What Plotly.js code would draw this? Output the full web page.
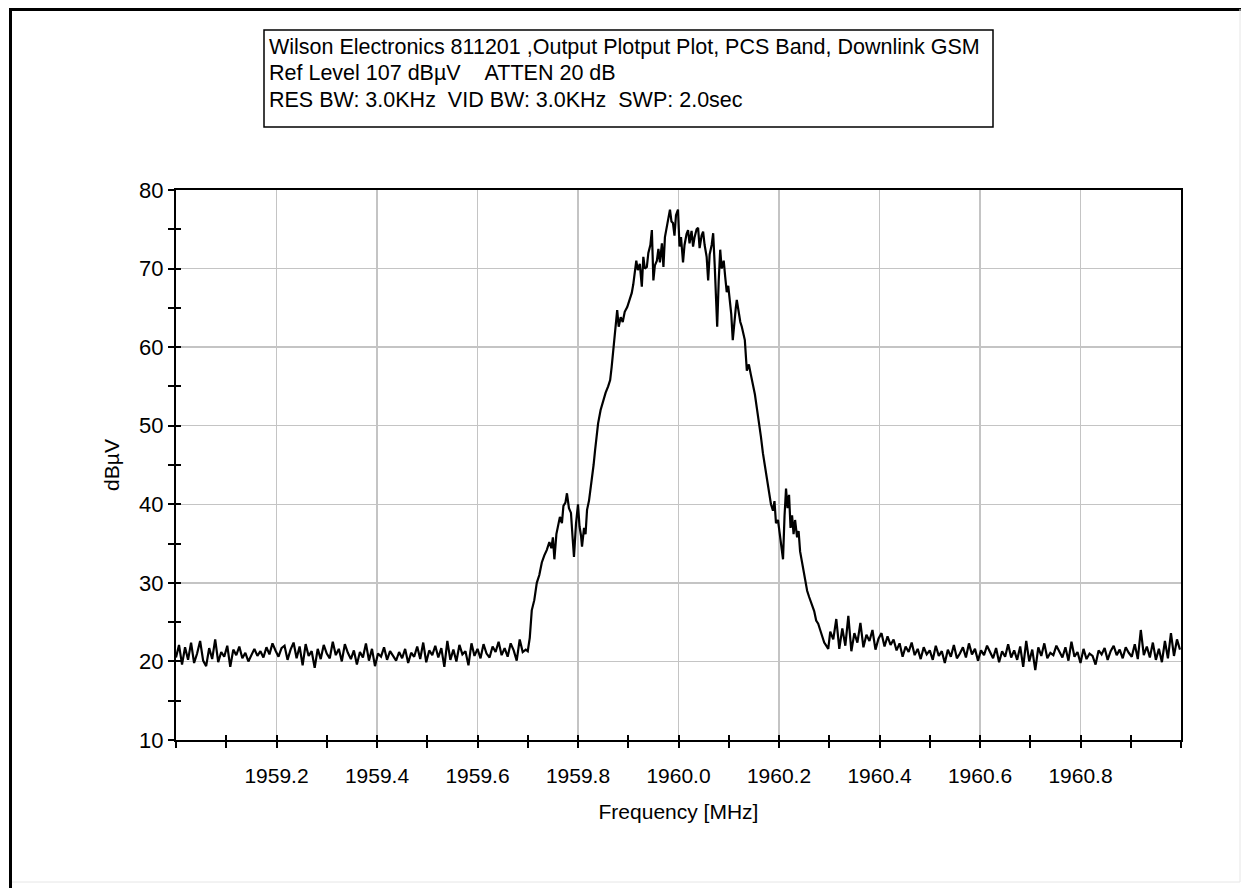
<!DOCTYPE html>
<html>
<head>
<meta charset="utf-8">
<script src="https://cdn.plot.ly/plotly-3.0.1.min.js"></script>
<style>
html,body{margin:0;padding:0;background:#fff;}
#chart{width:1246px;height:888px;}
</style>
</head>
<body>
<div id="chart"></div>
<script>
// ---- Data ----
const titleLines = [
  "Wilson Electronics 811201 ,Output Plotput Plot, PCS Band, Downlink GSM",
  "Ref Level 107 dBµV &nbsp;&nbsp;&nbsp;ATTEN 20 dB",
  "RES BW: 3.0KHz &nbsp;VID BW: 3.0KHz &nbsp;SWP: 2.0sec"
];
const xTitle = "Frequency [MHz]";
const yTitle = "dBµV";
const xTickVals = [1959.0, 1959.2, 1959.4, 1959.6, 1959.8, 1960.0, 1960.2, 1960.4, 1960.6, 1960.8, 1961.0];
const xTickText = ["", "1959.2", "1959.4", "1959.6", "1959.8", "1960.0", "1960.2", "1960.4", "1960.6", "1960.8", ""];
const yTickVals = [10, 20, 30, 40, 50, 60, 70, 80];

// Noise floor below the carrier (MHz)
const freqLow = [
1959.000,1959.006,1959.012,1959.018,1959.024,1959.030,1959.036,1959.042,1959.048,1959.054,
1959.060,1959.066,1959.072,1959.078,1959.084,1959.090,1959.096,1959.102,1959.108,1959.114,
1959.120,1959.126,1959.132,1959.138,1959.144,1959.150,1959.156,1959.162,1959.168,1959.174,
1959.180,1959.186,1959.192,1959.198,1959.204,1959.210,1959.216,1959.222,1959.228,1959.234,
1959.240,1959.246,1959.252,1959.258,1959.264,1959.270,1959.276,1959.282,1959.288,1959.294,
1959.300,1959.306,1959.312,1959.318,1959.324,1959.330,1959.336,1959.342,1959.348,1959.354,
1959.360,1959.366,1959.372,1959.378,1959.384,1959.390,1959.396,1959.402,1959.408,1959.414,
1959.420,1959.426,1959.432,1959.438,1959.444,1959.450,1959.456,1959.462,1959.468,1959.474,
1959.480,1959.486,1959.492,1959.498,1959.504,1959.510,1959.516,1959.522,1959.528,1959.534,
1959.540,1959.546,1959.552,1959.558,1959.564,1959.570,1959.576,1959.582,1959.588,1959.594,
1959.600,1959.606,1959.612,1959.618,1959.624,1959.630,1959.636,1959.642,1959.648,1959.654,
1959.660,1959.666,1959.672,1959.678,1959.684,1959.690,1959.696
];
const levelLow = [
20.5,22.1,19.6,21.8,20.2,22.4,19.8,21.0,22.6,20.1,
19.4,21.7,20.3,22.8,19.9,21.2,20.6,22.0,19.3,21.5,
20.8,21.9,20.4,21.1,20.0,20.9,21.6,20.7,21.3,20.5,
21.8,20.9,22.3,21.4,20.6,21.7,22.0,20.2,21.5,22.4,
20.4,21.9,19.5,22.2,20.7,21.3,19.2,21.6,20.3,22.1,
21.0,20.4,22.5,20.8,21.6,20.0,22.2,21.1,20.3,21.4,
19.6,21.2,20.5,22.3,20.1,21.6,19.4,21.0,20.6,21.8,
20.2,21.3,20.7,20.1,21.2,20.4,21.6,19.8,21.1,20.6,
21.9,20.3,22.4,19.9,21.4,20.8,22.0,20.5,21.7,19.3,
22.6,20.2,21.5,20.0,22.1,20.9,21.3,19.5,22.3,20.7,
21.6,20.4,22.2,21.0,20.5,21.9,21.2,22.5,20.8,21.7,
20.6,22.3,21.4,20.1,22.8,21.2,21.5
];

// Carrier region (MHz)
const freqCarrier = [
1959.700,1959.704,1959.708,1959.713,1959.718,1959.723,1959.728,1959.733,1959.738,1959.743,
1959.747,1959.750,1959.753,1959.757,1959.761,1959.764,1959.768,1959.771,1959.775,1959.778,
1959.782,1959.786,1959.789,1959.792,1959.796,1959.800,1959.803,1959.806,1959.808,1959.812,
1959.815,1959.818,1959.822,1959.825,1959.828,1959.831,1959.834,1959.837,1959.840,1959.845,
1959.850,1959.855,1959.860,1959.864,1959.867,1959.870,1959.874,1959.878,1959.881,1959.885,
1959.889,1959.893,1959.898,1959.902,1959.907,1959.910,1959.913,1959.916,1959.919,1959.923,
1959.927,1959.930,1959.933,1959.937,1959.940,1959.944,1959.947,1959.950,1959.953,1959.957,
1959.960,1959.963,1959.967,1959.970,1959.973,1959.977,1959.980,1959.983,1959.986,1959.989,
1959.992,1959.995,1959.999,1960.002,1960.005,1960.009,1960.012,1960.016,1960.019,1960.022,
1960.026,1960.029,1960.032,1960.036,1960.039,1960.042,1960.046,1960.049,1960.052,1960.056,
1960.059,1960.062,1960.066,1960.069,1960.072,1960.075,1960.077,1960.080,1960.083,1960.086,
1960.090,1960.093,1960.096,1960.099,1960.102,1960.105,1960.108,1960.111,1960.114,1960.116,
1960.120,1960.123,1960.126,1960.129,1960.132,1960.136,1960.140,1960.144,1960.148,1960.152,
1960.156,1960.160,1960.164,1960.168,1960.172,1960.176,1960.180,1960.184,1960.188,1960.191,
1960.194,1960.198,1960.201,1960.204,1960.208,1960.211,1960.214,1960.217,1960.220,1960.223,
1960.226,1960.229,1960.232,1960.236,1960.239,1960.242,1960.246,1960.249,1960.252,1960.256,
1960.260,1960.263,1960.266,1960.270,1960.274,1960.278,1960.282,1960.286,1960.290,1960.294,
1960.298,1960.302
];
const levelCarrier = [
21.3,23.0,26.5,27.8,30.0,31.0,32.6,33.5,34.2,35.2,
34.4,35.8,33.0,36.2,37.5,38.4,37.6,39.8,40.2,41.4,
39.5,38.9,36.0,33.3,37.5,40.0,37.2,36.0,34.6,37.0,
36.2,39.3,40.5,42.0,43.0,45.0,46.9,48.8,50.3,52.0,
53.3,54.2,55.0,55.8,57.5,59.3,61.5,64.7,62.6,63.8,
63.2,64.5,65.1,65.8,66.9,68.0,69.4,71.0,69.8,70.6,
67.7,71.5,70.0,70.2,72.0,73.0,74.9,68.5,70.4,71.0,
72.5,70.8,73.2,70.2,74.0,75.3,76.2,77.5,76.0,75.8,
74.2,76.8,77.5,72.8,74.0,70.8,73.0,74.4,74.9,73.2,
74.8,72.8,74.0,75.0,75.2,72.6,74.2,74.7,73.0,71.5,
68.5,71.8,73.0,74.5,70.5,66.0,62.6,68.4,72.4,70.0,
71.0,68.9,67.0,67.8,66.0,64.2,60.9,63.5,65.0,66.0,
64.0,63.2,62.6,61.8,60.9,57.0,57.8,56.5,55.2,54.0,
52.2,50.0,48.6,46.5,45.0,43.2,41.8,40.0,39.2,40.4,
37.6,38.0,36.5,35.2,33.0,38.5,42.0,39.5,41.2,37.0,
38.6,36.2,38.0,35.8,36.6,34.0,32.4,31.2,30.0,29.0,
28.2,27.6,27.0,26.4,25.2,24.8,24.0,23.2,22.4,22.0,
21.6,23.8
];

// Noise floor above the carrier (MHz)
const freqHigh = [
1960.308,1960.314,1960.320,1960.326,1960.332,1960.338,1960.344,1960.350,1960.356,1960.362,
1960.368,1960.374,1960.380,1960.386,1960.392,1960.398,1960.404,1960.410,1960.416,1960.422,
1960.428,1960.434,1960.440,1960.446,1960.452,1960.458,1960.464,1960.470,1960.476,1960.482,
1960.488,1960.494,1960.500,1960.506,1960.512,1960.518,1960.524,1960.530,1960.536,1960.542,
1960.548,1960.554,1960.560,1960.566,1960.572,1960.578,1960.584,1960.590,1960.596,1960.602,
1960.608,1960.614,1960.620,1960.626,1960.632,1960.638,1960.644,1960.650,1960.656,1960.662,
1960.668,1960.674,1960.680,1960.686,1960.692,1960.698,1960.704,1960.710,1960.716,1960.722,
1960.728,1960.734,1960.740,1960.746,1960.752,1960.758,1960.764,1960.770,1960.776,1960.782,
1960.788,1960.794,1960.800,1960.806,1960.812,1960.818,1960.824,1960.830,1960.836,1960.842,
1960.848,1960.854,1960.860,1960.866,1960.872,1960.878,1960.884,1960.890,1960.896,1960.902,
1960.908,1960.914,1960.920,1960.926,1960.932,1960.938,1960.944,1960.950,1960.956,1960.962,
1960.968,1960.974,1960.980,1960.986,1960.992,1960.998
];
const levelHigh = [
22.8,25.4,21.6,24.2,22.0,25.8,21.3,23.6,22.4,24.9,
21.8,23.4,22.6,24.0,21.5,22.9,23.6,21.9,23.2,22.1,
22.8,21.4,22.3,20.6,21.9,21.2,22.4,20.8,21.6,20.3,
21.8,20.9,21.4,20.2,22.0,20.7,21.3,19.8,21.5,20.6,
22.1,20.4,21.0,21.8,20.5,22.3,20.9,21.6,20.1,21.4,
20.8,22.0,21.2,20.4,21.7,19.9,21.3,20.6,22.2,20.5,
21.4,20.2,21.9,19.3,22.6,20.0,21.5,18.9,21.8,20.7,
22.3,20.4,21.1,20.8,22.0,21.3,20.5,21.8,20.1,22.5,
20.6,21.2,19.8,21.6,20.3,21.0,20.7,19.6,21.4,20.9,
21.7,20.2,21.3,22.0,20.8,21.5,20.4,21.8,21.1,20.6,
22.2,20.3,24.0,20.8,21.9,20.5,22.4,20.2,21.6,19.9,
22.6,20.4,23.6,20.7,22.8,21.5
];

// ---- Build figure ----
const freq = freqLow.concat(freqCarrier, freqHigh);
const level = levelLow.concat(levelCarrier, levelHigh);

const FONT = '"Liberation Sans", Arial, sans-serif';

const trace = {
  x: freq, y: level, type: 'scatter', mode: 'lines',
  line: {color: '#000', width: 2.2}, hoverinfo: 'skip', showlegend: false
};
// overlay axes only carry inward-pointing ticks
const tickTrace = {x: [], y: [], xaxis: 'x2', yaxis: 'y2', type: 'scatter', mode: 'lines', showlegend: false, hoverinfo: 'skip'};

// paper-coordinate helpers for the plot area (176..1181 x, 190..740 y)
const L = 176, R = 1181, T = 190, B = 740;
const px = v => (v - L) / (R - L);
const py = v => (B - v) / (B - T);

const annotations = titleLines.map((t, i) => ({
  text: t, xref: 'paper', yref: 'paper', x: px(267), y: py(47 + i * 26.5),
  xanchor: 'left', yanchor: 'middle', showarrow: false, align: 'left',
  font: {family: FONT, size: 21.5, color: '#000'}
}));

const layout = {
  width: 1246, height: 888,
  margin: {l: L, r: 1246 - R, t: T, b: 888 - B, pad: 0},
  paper_bgcolor: '#fff', plot_bgcolor: '#fff',
  font: {family: FONT, size: 21, color: '#000'},
  xaxis: {
    range: [1959.0, 1961.0], tickmode: 'array', tickvals: xTickVals, ticktext: xTickText,
    showgrid: true, gridcolor: '#c4c4c4', gridwidth: 1.5,
    showline: true, linecolor: '#000', linewidth: 2, mirror: true,
    ticks: 'outside', ticklen: 6, tickwidth: 2, tickcolor: '#000',
    minor: {dtick: 0.1, tick0: 1959.0, ticks: 'outside', ticklen: 6, tickwidth: 2, tickcolor: '#000', showgrid: false},
    ticklabelstandoff: 10,
    tickfont: {family: FONT, size: 21},
    zeroline: false, fixedrange: true,
    title: {text: xTitle, font: {family: FONT, size: 21}, standoff: 18}
  },
  yaxis: {
    range: [10, 80], tickmode: 'array', tickvals: yTickVals,
    showgrid: true, gridcolor: '#c4c4c4', gridwidth: 1.5,
    showline: true, linecolor: '#000', linewidth: 2, mirror: true,
    ticks: 'outside', ticklen: 6, tickwidth: 2, tickcolor: '#000',
    minor: {dtick: 5, tick0: 10, ticks: 'outside', ticklen: 6, tickwidth: 2, tickcolor: '#000', showgrid: false},
    tickfont: {family: FONT, size: 22},
    zeroline: false, fixedrange: true,
    title: {text: yTitle, font: {family: FONT, size: 21}, standoff: 14}
  },
  xaxis2: {
    overlaying: 'x', anchor: 'y2', side: 'bottom', range: [1959.0, 1961.0],
    tickmode: 'array', tickvals: xTickVals, showticklabels: false, showgrid: false, zeroline: false,
    ticks: 'inside', ticklen: 5, tickwidth: 2, tickcolor: '#000', showline: false,
    minor: {dtick: 0.1, tick0: 1959.0, ticks: 'inside', ticklen: 5, tickwidth: 2, tickcolor: '#000', showgrid: false}
  },
  yaxis2: {
    overlaying: 'y', anchor: 'x2', side: 'left', range: [10, 80],
    tickmode: 'array', tickvals: yTickVals, showticklabels: false, showgrid: false, zeroline: false,
    ticks: 'inside', ticklen: 5, tickwidth: 2, tickcolor: '#000', showline: false,
    minor: {dtick: 5, tick0: 10, ticks: 'inside', ticklen: 5, tickwidth: 2, tickcolor: '#000', showgrid: false}
  },
  annotations: annotations,
  shapes: [
    // header box
    {type: 'rect', xref: 'paper', yref: 'paper', x0: px(264), x1: px(993), y0: py(127), y1: py(30),
     line: {color: '#000', width: 1.5}, fillcolor: 'rgba(0,0,0,0)'},
    // outer frame
    {type: 'line', xref: 'paper', yref: 'paper', x0: px(9), x1: px(1241), y0: py(9.5), y1: py(9.5), line: {color: '#000', width: 3}},
    {type: 'line', xref: 'paper', yref: 'paper', x0: px(10.5), x1: px(10.5), y0: py(9), y1: py(888), line: {color: '#000', width: 3}},
    {type: 'line', xref: 'paper', yref: 'paper', x0: px(1240), x1: px(1240), y0: py(9), y1: py(882), line: {color: '#e6e6e6', width: 1}},
    {type: 'line', xref: 'paper', yref: 'paper', x0: px(12), x1: px(1240), y0: py(882), y1: py(882), line: {color: '#e6e6e6', width: 1}}
  ]
};

Plotly.newPlot('chart', [trace, tickTrace], layout, {displayModeBar: false, staticPlot: true});
</script>
</body>
</html>
